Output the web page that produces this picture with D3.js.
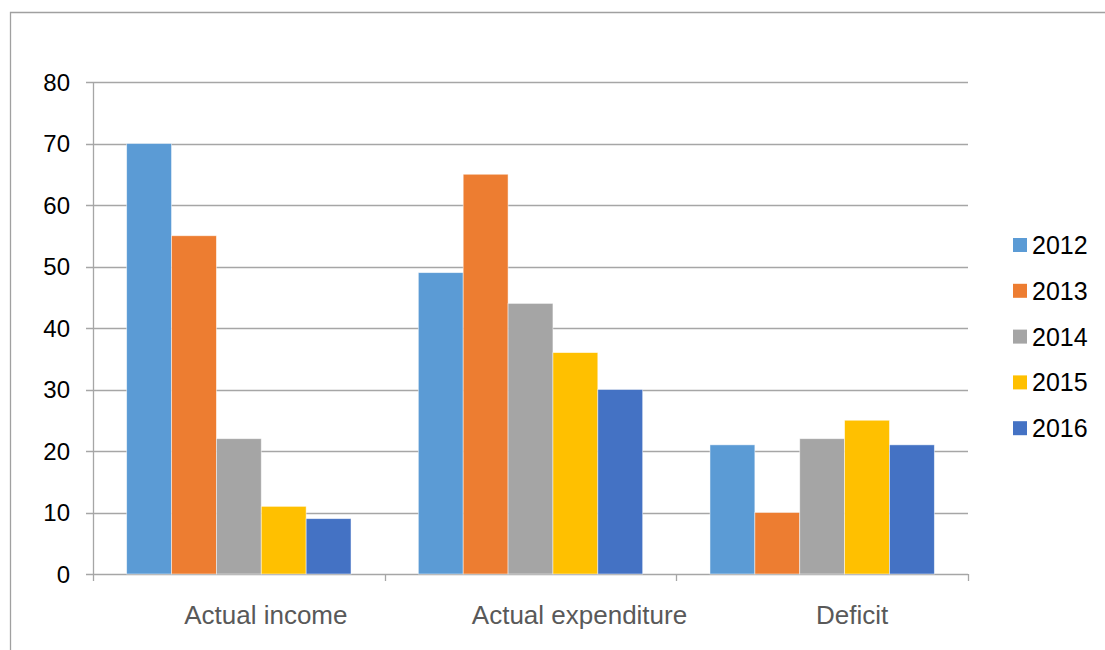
<!DOCTYPE html>
<html>
<head>
<meta charset="utf-8">
<script src="https://cdn.jsdelivr.net/npm/d3@7"></script>
<style>
  html, body { margin: 0; padding: 0; background: #fff; }
  svg { display: block; font-family: "Liberation Sans", Arial, sans-serif; }
</style>
</head>
<body>
<svg id="chart" width="1105" height="650"></svg>
<script>
// Budget figures per category, one array per year
const categories = ["Actual income", "Actual expenditure", "Deficit"];
const years = ["2012", "2013", "2014", "2015", "2016"];
const values2012 = [70, 49, 21];
const values2013 = [55, 65, 10];
const values2014 = [22, 44, 22];
const values2015 = [11, 36, 25];
const values2016 = [9, 30, 21];
const yTicks = [0, 10, 20, 30, 40, 50, 60, 70, 80];
const colors = ["#5B9BD5", "#ED7D31", "#A5A5A5", "#FFC000", "#4472C4"];

const seriesValues = [values2012, values2013, values2014, values2015, values2016];
const rows = categories.map((c, i) => ({
  category: c,
  bars: years.map((y, j) => ({ year: y, value: seriesValues[j][i] }))
}));

const svg = d3.select("#chart");
const plot = { left: 93, right: 968, top: 82, bottom: 574 };
const gridColor = "#A6A6A6";

// Outer chart frame
svg.append("path")
  .attr("d", "M10.5,650 L10.5,12.5 L1105,12.5")
  .attr("fill", "none")
  .attr("stroke", "#A0A0A0")
  .attr("stroke-width", 1.3);

const x = d3.scaleBand().domain(categories).range([plot.left, plot.right]).paddingInner(0).paddingOuter(0);
// Excel-style 150% gap: bar width = band / (5 + 1.5)
const barW = x.bandwidth() / (years.length + 1.5);
const x1 = d3.scaleBand().domain(years)
  .range([0.75 * barW, 0.75 * barW + years.length * barW]).padding(0);
const y = d3.scaleLinear().domain([0, 80]).range([plot.bottom, plot.top]);

// Horizontal gridlines (extend left as tick marks)
svg.append("g").selectAll("line").data(yTicks).join("line")
  .attr("x1", plot.left - 7).attr("x2", plot.right)
  .attr("y1", d => Math.round(y(d)) + 0.5).attr("y2", d => Math.round(y(d)) + 0.5)
  .attr("stroke", gridColor).attr("stroke-width", 1.3);

// Value axis line
svg.append("line")
  .attr("x1", plot.left + 0.5).attr("x2", plot.left + 0.5)
  .attr("y1", plot.top).attr("y2", plot.bottom)
  .attr("stroke", gridColor).attr("stroke-width", 1.3);

// Category boundary ticks
const boundaries = categories.map(c => x(c)).concat([plot.right]);
svg.append("g").selectAll("line").data(boundaries).join("line")
  .attr("x1", d => Math.round(d) + 0.5).attr("x2", d => Math.round(d) + 0.5)
  .attr("y1", plot.bottom).attr("y2", plot.bottom + 7)
  .attr("stroke", gridColor).attr("stroke-width", 1.3);

// Bars
const groups = svg.append("g").selectAll("g").data(rows).join("g")
  .attr("transform", d => `translate(${x(d.category)},0)`);
groups.selectAll("rect").data(d => d.bars).join("rect")
  .attr("x", d => x1(d.year))
  .attr("width", x1.bandwidth())
  .attr("y", d => y(d.value))
  .attr("height", d => y(0) - y(d.value))
  .attr("fill", (d, i) => colors[i])
  .attr("stroke", "#ffffff")
  .attr("stroke-opacity", 0.6)
  .attr("stroke-width", 0.8);

// Value axis labels
svg.append("g").selectAll("text").data(yTicks).join("text")
  .attr("x", 70)
  .attr("y", d => y(d))
  .attr("dy", "0.36em")
  .attr("text-anchor", "end")
  .attr("font-size", 24)
  .attr("fill", "#000")
  .text(d => d);

// Category labels (shifted right of band centre, as laid out in the chart)
const labelShift = { "Actual income": 27, "Actual expenditure": 49, "Deficit": 30 };
svg.append("g").selectAll("text").data(categories).join("text")
  .attr("x", d => x(d) + x.bandwidth() / 2 + labelShift[d])
  .attr("y", 624)
  .attr("text-anchor", "middle")
  .attr("font-size", 26)
  .attr("fill", "#595959")
  .text(d => d);

// Legend
const legend = svg.append("g").selectAll("g").data(years).join("g")
  .attr("transform", (d, i) => `translate(1013,${245 + i * 45.8})`);
legend.append("rect")
  .attr("x", 0).attr("y", -7).attr("width", 14).attr("height", 14)
  .attr("fill", (d, i) => colors[i]);
legend.append("text")
  .attr("x", 19).attr("y", 0).attr("dy", "0.36em")
  .attr("font-size", 25)
  .attr("fill", "#000")
  .text(d => d);
</script>
</body>
</html>
